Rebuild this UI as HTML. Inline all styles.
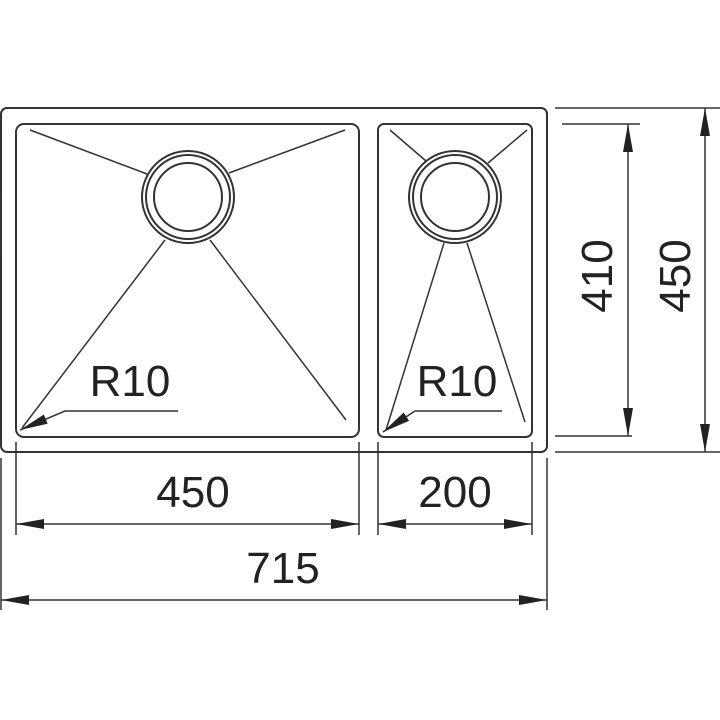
<!DOCTYPE html>
<html><head><style>body{margin:0;background:#fff}svg{display:block}</style></head>
<body>
<svg width="720" height="720" viewBox="0 0 720 720" xmlns="http://www.w3.org/2000/svg">
<defs>
<marker id="a" markerWidth="28" markerHeight="10" refX="28" refY="5" orient="auto" markerUnits="userSpaceOnUse"><path d="M0,0 L28,5 L0,10 Z" fill="#222"/></marker>
<marker id="s" markerWidth="28" markerHeight="10" refX="0" refY="5" orient="auto" markerUnits="userSpaceOnUse"><path d="M28,0 L0,5 L28,10 Z" fill="#222"/></marker>
</defs>
<g fill="none" stroke="#333" stroke-width="2">
<rect x="1" y="108" width="546" height="344" rx="6"/>
<rect x="16" y="124" width="343" height="313" rx="8"/>
<rect x="378" y="124" width="154" height="313" rx="6"/>
<circle cx="188" cy="197" r="46"/><circle cx="188" cy="197" r="42"/><circle cx="188" cy="197" r="34"/>
<circle cx="455" cy="197" r="46"/><circle cx="455" cy="197" r="42"/><circle cx="455" cy="197" r="34"/>
</g>
<g stroke="#333" stroke-width="1.5" fill="none">
<line x1="30" y1="130" x2="147" y2="174"/><line x1="345" y1="130" x2="229" y2="173"/>
<line x1="165" y1="240" x2="22" y2="428"/><line x1="210" y1="240" x2="346" y2="420"/>
<line x1="390" y1="130" x2="426" y2="161"/><line x1="527" y1="130" x2="488" y2="163"/>
<line x1="444" y1="243" x2="386" y2="430"/><line x1="467" y1="243" x2="525" y2="422"/>
<polyline points="178,411 65,411 20,430" marker-end="url(#a)"/>
<polyline points="502,411 415,411 383,432" marker-end="url(#a)"/>
<!-- extension lines -->
<line x1="16" y1="442" x2="16" y2="535"/><line x1="359" y1="442" x2="359" y2="535"/>
<line x1="378" y1="442" x2="378" y2="535"/><line x1="532" y1="442" x2="532" y2="535"/>
<line x1="1" y1="458" x2="1" y2="610"/><line x1="547" y1="458" x2="547" y2="610"/>
<line x1="562" y1="124" x2="640" y2="124"/><line x1="555" y1="436" x2="632" y2="436"/>
<line x1="555" y1="108" x2="720" y2="108"/><line x1="555" y1="452" x2="720" y2="452"/>
<!-- dimension lines -->
<line x1="16" y1="524" x2="359" y2="524" marker-start="url(#s)" marker-end="url(#a)"/>
<line x1="378" y1="524" x2="532" y2="524" marker-start="url(#s)" marker-end="url(#a)"/>
<line x1="1" y1="600" x2="547" y2="600" marker-start="url(#s)" marker-end="url(#a)"/>
<line x1="628" y1="124" x2="628" y2="436" marker-start="url(#s)" marker-end="url(#a)"/>
<line x1="705" y1="108" x2="705" y2="452" marker-start="url(#s)" marker-end="url(#a)"/>
</g>
<g font-family="Liberation Sans, sans-serif" font-size="44" fill="#222" text-anchor="middle">
<text x="130" y="396">R10</text>
<text x="457" y="396">R10</text>
<text x="193" y="507">450</text>
<text x="455" y="507">200</text>
<text x="283" y="583">715</text>
<text transform="translate(612,276) rotate(-90)">410</text>
<text transform="translate(690,276) rotate(-90)">450</text>
</g>
</svg>
</body></html>
